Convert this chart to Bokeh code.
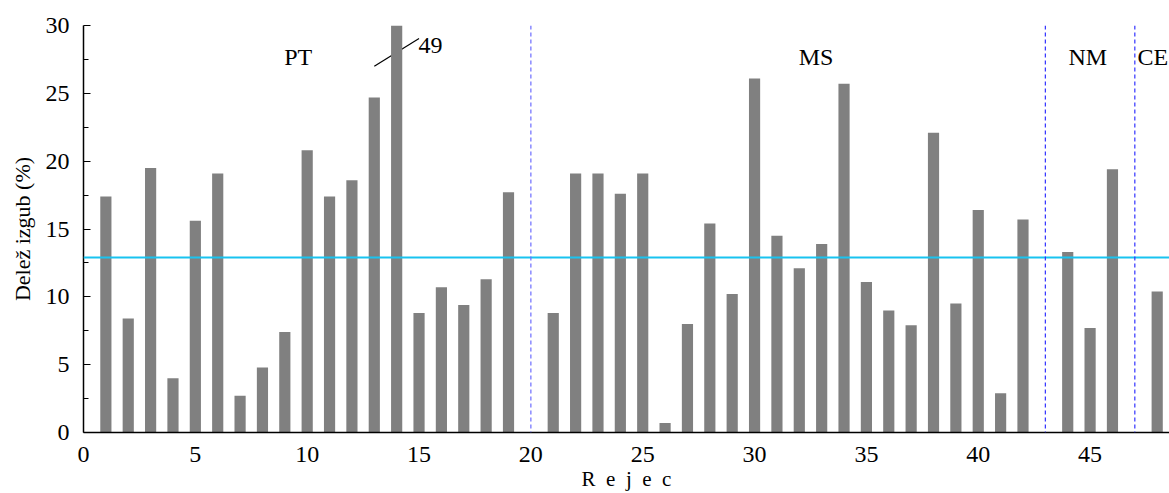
from bokeh.plotting import figure
from bokeh.models import Range1d, FixedTicker, Span, ColumnDataSource
from bokeh.core.properties import value
from bokeh.embed import file_html
from bokeh.resources import INLINE

# ---- data ----
rejec = [1, 2, 3, 4, 5, 6, 7, 8, 9, 10, 11, 12, 13, 14, 15, 16, 17, 18, 19,
         21, 22, 23, 24, 25, 26, 27, 28, 29, 30, 31, 32, 33, 34, 35, 36, 37, 38, 39, 40, 41, 42,
         44, 45, 46, 48]
delez = [17.4, 8.4, 19.5, 4.0, 15.6, 19.1, 2.7, 4.8, 7.4, 20.8, 17.4, 18.6, 24.7, 49.0, 8.8, 10.7, 9.4, 11.3, 17.7,
         8.8, 19.1, 19.1, 17.6, 19.1, 0.7, 8.0, 15.4, 10.2, 26.1, 14.5, 12.1, 13.9, 25.7, 11.1, 9.0, 7.9, 22.1, 9.5, 16.4, 2.9, 15.7,
         13.3, 7.7, 19.4,
         10.4]
mean_line = 12.9
group_bounds = [20, 43, 47]
group_names = ["PT", "MS", "NM", "CE"]
group_label_x = [9.6, 32.75, 44.9, 47.12]
group_label_y = [27.65, 27.65, 27.65, 27.65]
x_ticks = [0, 5, 10, 15, 20, 25, 30, 35, 40, 45]
y_ticks = [0, 5, 10, 15, 20, 25, 30]
y_minor = [2.5, 7.5, 12.5, 17.5, 22.5, 27.5]
clip_label = "49"
clip_label_pos = (14.98, 28.5)
clip_line_x = [13.0, 15.0]
clip_line_y = [27.0, 29.05]

FONT = "Liberation Serif"

p = figure(width=1169, height=493, output_backend="svg", toolbar_location=None,
           x_range=Range1d(0, 48.55), y_range=Range1d(0, 30),
           min_border_left=83, min_border_right=0, min_border_top=25, min_border_bottom=60)
p.outline_line_color = None
p.xgrid.visible = False
p.ygrid.visible = False
p.background_fill_color = "white"

# annotation line behind the clipped bar
p.line(clip_line_x, clip_line_y, line_color="black", line_width=1.2)

src = ColumnDataSource(dict(x=rejec, top=delez))
p.vbar(x="x", top="top", width=0.5, source=src, fill_color="#808080", line_color=None)

p.add_layout(Span(location=mean_line, dimension="width", line_color="#19c3f0", line_width=2))
for i, b in enumerate(group_bounds):
    col = "#6a6aff" if i == 0 else "#3030ff"
    p.add_layout(Span(location=b, dimension="height", line_color=col, line_width=1.2, line_dash="4 3"))

p.text(x=group_label_x, y=group_label_y, text=group_names, text_font=value(FONT),
       text_font_size="24px", text_align=["center", "center", "center", "left"],
       text_baseline="alphabetic", text_color="black")
p.text(x=[clip_label_pos[0]], y=[clip_label_pos[1]], text=[clip_label], text_font=value(FONT),
       text_font_size="24px", text_align="left", text_baseline="alphabetic", text_color="black")

# x axis
xa = p.xaxis[0]
xa.ticker = FixedTicker(ticks=x_ticks)
xa.major_tick_in = 0
xa.major_tick_out = 0
xa.minor_tick_in = 0
xa.minor_tick_out = 0
xa.axis_line_color = "black"
xa.axis_line_width = 1.5
xa.major_label_text_font = FONT
xa.major_label_text_font_size = "24px"
xa.major_label_text_color = "black"
xa.major_label_standoff = 14
xa.axis_label = "R\u2002e\u2002j\u2002e\u2002c"
xa.axis_label_text_font = FONT
xa.axis_label_text_font_size = "21px"
xa.axis_label_text_font_style = "normal"
xa.axis_label_text_color = "black"
xa.axis_label_standoff = 2

# y axis
ya = p.yaxis[0]
ya.ticker = FixedTicker(ticks=y_ticks, minor_ticks=y_minor)
ya.major_tick_in = 7
ya.major_tick_out = 0
ya.minor_tick_in = 5
ya.minor_tick_out = 0
ya.major_tick_line_color = "black"
ya.minor_tick_line_color = "black"
ya.axis_line_color = "black"
ya.axis_line_width = 1.5
ya.major_label_text_font = FONT
ya.major_label_text_font_size = "24px"
ya.major_label_text_color = "black"
ya.major_label_standoff = 14
ya.axis_label = "Delež izgub (%)"
ya.axis_label_text_font = FONT
ya.axis_label_text_font_size = "22px"
ya.axis_label_text_font_style = "normal"
ya.axis_label_text_color = "black"
ya.axis_label_standoff = 8

open("out.html", "w").write(file_html(p, INLINE))
